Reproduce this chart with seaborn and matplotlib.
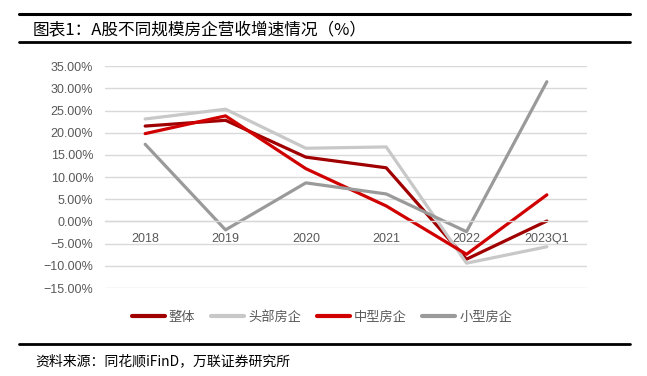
import numpy as np
import pandas as pd
import seaborn as sns
import matplotlib.pyplot as plt
from matplotlib.lines import Line2D
from matplotlib.ticker import FixedLocator, FuncFormatter

years = ['2018', '2019', '2020', '2021', '2022', '2023Q1']
overall = [21.5, 22.8, 14.5, 12.1, -8.5, 0.1]
top_firms = [23.1, 25.3, 16.5, 16.8, -9.4, -5.7]
mid_firms = [19.8, 23.8, 11.9, 3.5, -7.4, 6.0]
small_firms = [17.4, -1.9, 8.7, 6.2, -2.3, 31.5]

names = ['整体', '头部房企', '中型房企', '小型房企']
colors = ['#A00000', '#C8C8C8', '#D00000', '#9A9A9A']

rows = []
for name, vals in zip(names, [overall, top_firms, mid_firms, small_firms]):
    for y, v in zip(years, vals):
        rows.append([name, y, v])
data = pd.DataFrame(rows, columns=['series', 'year', 'growth'])

sns.set_theme(style='white')
plt.rcParams['font.family'] = ['Liberation Sans', 'Noto Sans CJK SC', 'DejaVu Sans']
cjk = ['Noto Sans CJK SC', 'DejaVu Sans']

fig = plt.figure(figsize=(6.47, 3.76), dpi=100)
ax = fig.add_axes([0.1623, 0.234, 0.745, 0.590])

sns.lineplot(data=data, x='year', y='growth', hue='series', hue_order=names,
             palette=colors, linewidth=2.3, sort=False, ax=ax, legend=False)

ax.set_xlim(-0.5, len(years) - 0.5)
ax.set_ylim(-15, 35)
ax.set_yticks(np.arange(-15, 36, 5))
ax.yaxis.set_major_formatter(FuncFormatter(lambda v, p: f'{v:.2f}%'.replace('-', '\u2212')))
ax.grid(axis='y', color='#D9D9D9', linewidth=1)
ax.set_axisbelow(True)
for s in ['top', 'right', 'left']:
    ax.spines[s].set_visible(False)
ax.spines['bottom'].set_position(('data', 0))
ax.spines['bottom'].set_color('#D9D9D9')
ax.spines['bottom'].set_linewidth(1)
ax.xaxis.set_minor_locator(FixedLocator(np.arange(-0.5, len(years), 1)))
ax.tick_params(axis='x', which='major', length=0, pad=8, labelsize=9, labelcolor='#595959')
ax.tick_params(axis='x', which='minor', length=4, width=1, color='#D9D9D9', direction='out')
ax.tick_params(axis='y', length=0, pad=8.5, labelsize=9, labelcolor='#595959')
ax.set_xlabel('')
ax.set_ylabel('')

handles = [Line2D([0], [0], color=c, linewidth=3) for c in colors]
fig.legend(handles, names, loc='center', bbox_to_anchor=(322 / 647, 1 - 317 / 376), ncol=4,
           frameon=False, handlelength=2.5, handletextpad=0.3, columnspacing=1.2,
           prop={'family': cjk, 'size': 9.5}, labelcolor='#595959')

for yy, lw in [(14, 2.2), (42, 2.0), (344, 2.0)]:
    fig.add_artist(Line2D([19 / 647, 630 / 647], [1 - yy / 376, 1 - yy / 376],
                          color='black', linewidth=lw))

fig.text(33 / 647, 1 - 30.5 / 376, '图表1：A股不同规模房企营收增速情况（%）',
         family=cjk, fontsize=12, va='center', ha='left', color='black')
fig.text(35 / 647, 1 - 361 / 376, '资料来源：同花顺iFinD，万联证券研究所',
         family=cjk, fontsize=10, va='center', ha='left', style='italic', color='black')

fig.savefig('out.png', dpi=100)
